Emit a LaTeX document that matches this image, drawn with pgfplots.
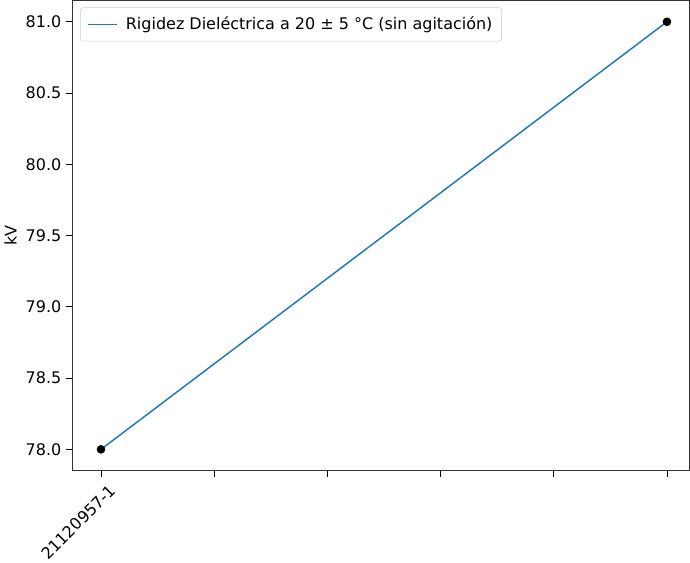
\documentclass[border=0pt]{standalone}
\usepackage{pgfplots}
\pgfplotsset{compat=1.18}
\usepackage{fontspec}
\setmainfont{DejaVu Sans}
\definecolor{c0}{HTML}{1F77B4}
\begin{document}
\begin{tikzpicture}
\begin{axis}[
  width=463pt, height=353pt, scale only axis,
  xmin=-0.25, xmax=5.2, ymin=77.85, ymax=81.15,
  xtick={0},
  xticklabels={21120957-1},
  extra x ticks={1,2,3,4,5},
  extra x tick labels={},
  xticklabel style={rotate=45, anchor=north east, inner sep=1pt, yshift=-6pt, xshift=2pt},
  ytick={78,78.5,79,79.5,80,80.5,81},
  yticklabel style={/pgf/number format/.cd, fixed, fixed zerofill, precision=1},
  /pgf/number format/assume math mode=true,
  ylabel={kV},
  tick align=outside, tick pos=left,
  major tick length=5pt,
  every tick/.style={black, line width=0.6pt},
  axis line style={line width=0.6pt, black!80},
  tick label style={font=\fontsize{12}{14}\selectfont},
  label style={font=\fontsize{12}{14}\selectfont},
  legend style={at={(0.012,0.985)}, anchor=north west, draw=black!20, rounded corners=2pt,
    font=\fontsize{12}{14}\selectfont, inner xsep=5pt, inner ysep=5pt,
    nodes={inner sep=2pt}},
  legend image code/.code={\draw[c0, line width=1.2pt] (0pt,0pt) -- (22pt,0pt); \path (26pt,0pt);},
  legend cell align=left,
]
\addplot[c0, line width=1.1pt] coordinates {(0,78) (5,81)};
\addlegendentry{Rigidez Dieléctrica a 20 ± 5 °C (sin agitación)}
\addplot[only marks, mark=*, mark size=3pt, black, forget plot] coordinates {(0,78) (5,81)};
\end{axis}
\end{tikzpicture}
\end{document}
